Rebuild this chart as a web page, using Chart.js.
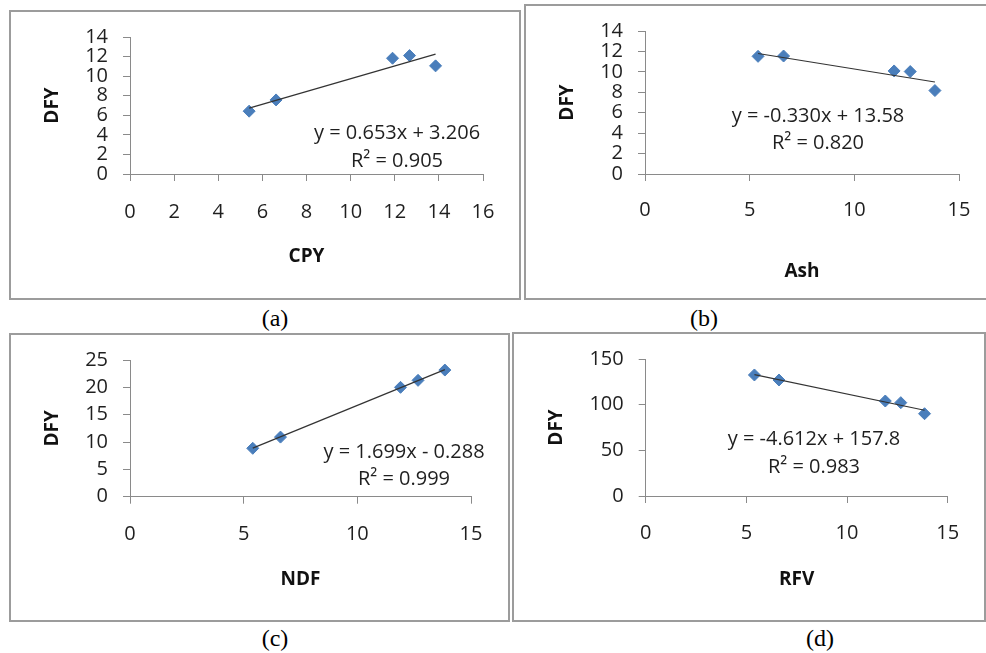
<!DOCTYPE html>
<html>
<head>
<meta charset="utf-8">
<script src="https://cdn.jsdelivr.net/npm/chart.js@4.4.1/dist/chart.umd.min.js"></script>
<style>
  body { margin: 0; background: #fff; width: 986px; height: 653px; position: relative; overflow: hidden; }
  canvas { position: absolute; }
  .frame { position: absolute; border: 2px solid #9c9c9c; box-sizing: border-box; pointer-events: none; }
  .cap { position: absolute; font-family: 'Liberation Serif', serif; font-size: 24px; color: #000; transform: translate(-50%, -50%); }
</style>
</head>
<body>
<script>
// x values (same five samples in every panel)
const xVals = [5.4, 6.62, 11.9, 12.67, 13.85];

// DFY
const dfyCPY = [6.42, 7.57, 11.83, 12.1, 11.05];
const dfyAsh = [11.52, 11.55, 10.09, 10.03, 8.17];
const dfyNDF = [8.85, 10.9, 20.0, 21.28, 23.16];
const dfyRFV = [132.5, 127, 104, 102.2, 90.1];

// trendline end points (x from first to last sample)
const trendX = [5.4, 13.85];
const trendCPY = [6.73, 12.25];
const trendAsh = [11.8, 9.01];
const trendNDF = [8.89, 23.24];
const trendRFV = [132.9, 93.9];

// axis ranges / ticks
const xMaxes = [16, 15, 15, 15];
const xSteps = [2, 5, 5, 5];
const yMaxes = [14, 14, 25, 150];
const ySteps = [2, 2, 5, 50];

const xTitles = ['CPY', 'Ash', 'NDF', 'RFV'];
const captions = ['(a)', '(b)', '(c)', '(d)'];
const eqLines = [
  ['y = 0.653x + 3.206', 'R\u00b2 = 0.905'],
  ['y = -0.330x + 13.58', 'R\u00b2 = 0.820'],
  ['y = 1.699x - 0.288', 'R\u00b2 = 0.999'],
  ['y = -4.612x + 157.8', 'R\u00b2 = 0.983']
];
const dfySets = [dfyCPY, dfyAsh, dfyNDF, dfyRFV];
const trendSets = [trendCPY, trendAsh, trendNDF, trendRFV];

// page layout (pixels)
const layout = [
  { box: [9, 10, 521, 300],  plot: [130, 36, 483, 174],    yTitleX: 53,  xTitleY: 257, xLabY: 212,   eq: [397, 133, 161], cap: [275, 318] },
  { box: [524, 4, 992, 300], plot: [645, 30.7, 959, 174],  yTitleX: 568, xTitleY: 272, xLabY: 210.7, eq: [818, 116, 143], cap: [704, 318] },
  { box: [9, 333, 510, 622], plot: [130, 360, 471, 496.7], yTitleX: 53,  xTitleY: 580, xLabY: 534.3, eq: [404, 452, 479], cap: [275, 638] },
  { box: [512, 332, 986, 622], plot: [645.7, 359, 947.7, 496], yTitleX: 557, xTitleY: 580, xLabY: 533.3, eq: [814, 439, 467], cap: [820, 638] }
];

const AXIS = '#8a8a8a';
const TXT = '#1f1f1f';
const TICK_FONT = { family: "'Open Sans'", size: 20, lineHeight: 1.2 };
const TITLE_FONT = { family: "'Open Sans'", size: 19, weight: 'bold', lineHeight: 1.2 };

// draws the trendline equation text
const eqPlugin = {
  id: 'eqText',
  afterDraw(chart, args, opts) {
    const ctx = chart.ctx;
    ctx.save();
    ctx.font = '20px "Open Sans"';
    ctx.fillStyle = TXT;
    ctx.textAlign = 'center';
    ctx.textBaseline = 'middle';
    opts.lines.forEach((t, i) => ctx.fillText(t, opts.x, opts.ys[i]));
    ctx.restore();
  }
};

function makePanel(i) {
  const L = layout[i];
  const [bl, bt, br, bb] = L.box;
  const [pl, pt, pr, pb] = L.plot;
  const w = br - bl, h = bb - bt;

  const cv = document.createElement('canvas');
  cv.width = w; cv.height = h;
  cv.style.left = bl + 'px'; cv.style.top = bt + 'px';
  cv.style.width = w + 'px'; cv.style.height = h + 'px';
  document.body.appendChild(cv);

  const fr = document.createElement('div');
  fr.className = 'frame';
  fr.style.left = bl + 'px'; fr.style.top = bt + 'px';
  fr.style.width = w + 'px'; fr.style.height = h + 'px';
  document.body.appendChild(fr);

  const cap = document.createElement('div');
  cap.className = 'cap';
  cap.textContent = captions[i];
  cap.style.left = L.cap[0] + 'px'; cap.style.top = L.cap[1] + 'px';
  document.body.appendChild(cap);

  const lh = TITLE_FONT.size * TITLE_FONT.lineHeight;
  const tickLh = TICK_FONT.size * TICK_FONT.lineHeight;

  new Chart(cv, {
    type: 'scatter',
    data: {
      datasets: [
        {
          data: xVals.map((x, k) => ({ x: x, y: dfySets[i][k] })),
          pointStyle: 'rectRot',
          pointRadius: 6,
          backgroundColor: '#4a7ebb',
          borderColor: '#4a7ebb',
          borderWidth: 1,
          order: 1
        },
        {
          data: trendX.map((x, k) => ({ x: x, y: trendSets[i][k] })),
          showLine: true,
          pointRadius: 0,
          borderColor: '#333',
          borderWidth: 1.2,
          order: 0
        }
      ]
    },
    options: {
      responsive: false,
      animation: false,
      events: [],
      layout: { padding: { top: pt - bt, right: br - pr, left: 0, bottom: 0 } },
      plugins: {
        legend: { display: false },
        tooltip: { enabled: false },
        eqText: { lines: eqLines[i], x: L.eq[0] - bl, ys: [L.eq[1] - bt, L.eq[2] - bt] }
      },
      scales: {
        x: {
          type: 'linear',
          min: 0, max: xMaxes[i],
          ticks: { stepSize: xSteps[i], autoSkip: false, maxRotation: 0, font: TICK_FONT, color: TXT,
                   padding: (L.xLabY - pb) - 7 - tickLh / 2 },
          grid: { drawOnChartArea: false, drawTicks: true, tickLength: 7, color: AXIS },
          border: { color: AXIS, width: 1 },
          title: { display: true, text: xTitles[i], font: TITLE_FONT, color: '#111',
                   padding: { top: 0, bottom: (bb - L.xTitleY) - lh / 2 } },
          afterFit(s) { s.height = bb - pb; }
        },
        y: {
          type: 'linear',
          min: 0, max: yMaxes[i],
          ticks: { stepSize: ySteps[i], autoSkip: false, font: TICK_FONT, color: TXT, padding: 15 },
          grid: { drawOnChartArea: false, drawTicks: true, tickLength: 7, color: AXIS },
          border: { color: AXIS, width: 1 },
          title: { display: true, text: 'DFY', font: TITLE_FONT, color: '#111',
                   padding: { top: (L.yTitleX - bl) - lh / 2, bottom: 0 } },
          afterFit(s) { s.width = pl - bl; }
        }
      }
    },
    plugins: [eqPlugin]
  });
}

for (let i = 0; i < 4; i++) makePanel(i);
</script>
</body>
</html>
